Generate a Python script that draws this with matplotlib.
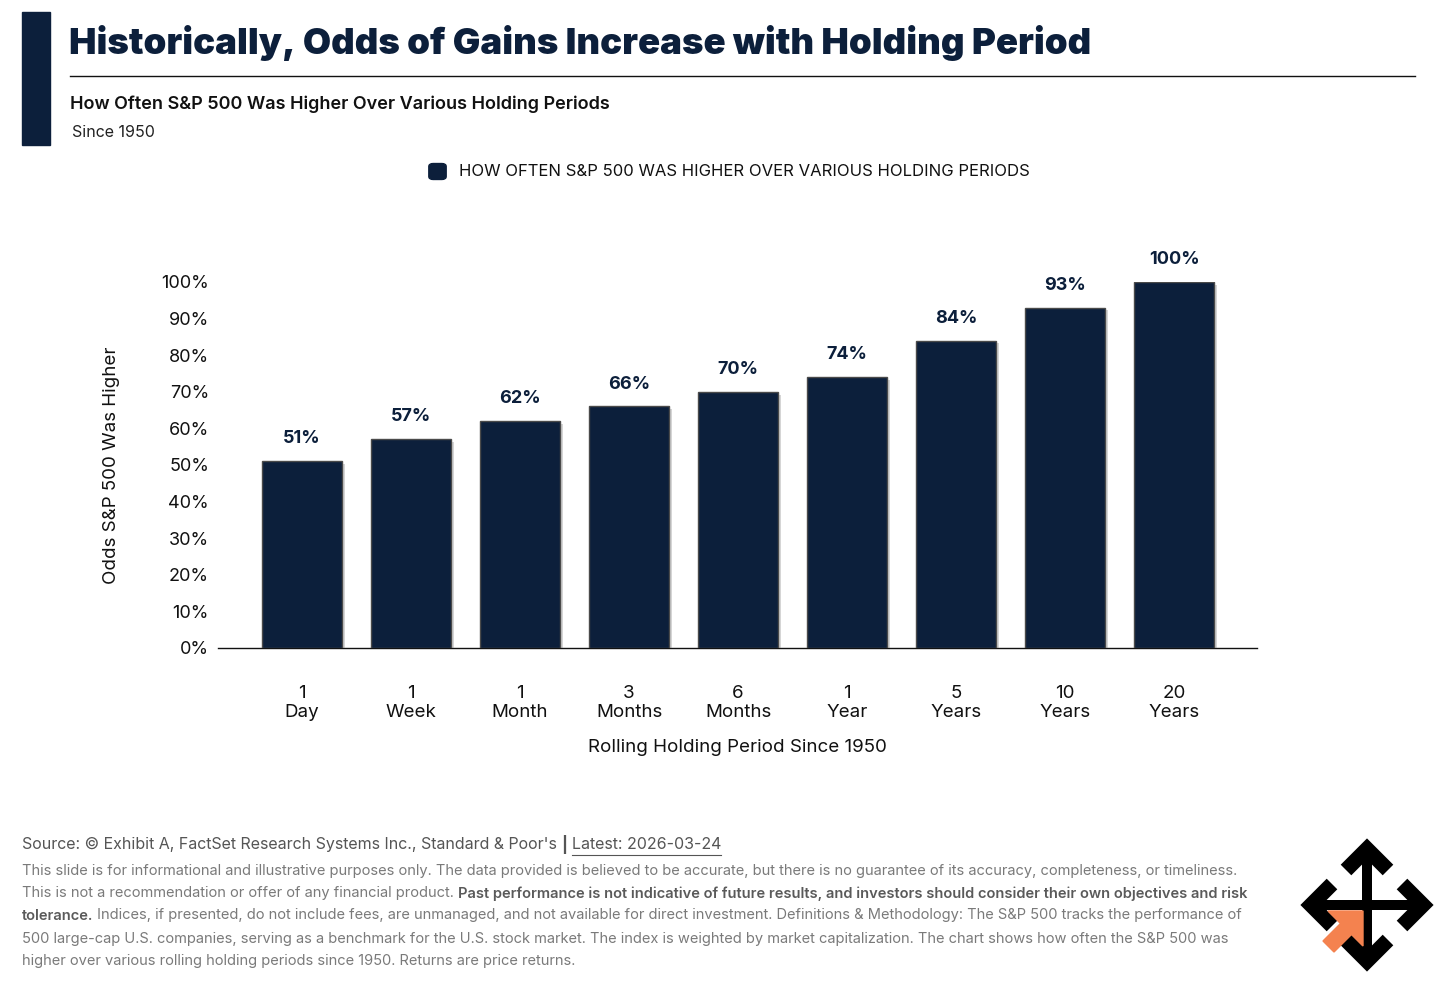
import matplotlib
matplotlib.use("Agg")
import matplotlib.pyplot as plt
import matplotlib.patheffects as pe
from matplotlib.patches import Rectangle, FancyBboxPatch, Polygon
from matplotlib.lines import Line2D

categories = ["1\nDay", "1\nWeek", "1\nMonth", "3\nMonths", "6\nMonths",
              "1\nYear", "5\nYears", "10\nYears", "20\nYears"]
values = [51, 57, 62, 66, 70, 74, 84, 93, 100]
yticks = [0, 10, 20, 30, 40, 50, 60, 70, 80, 90, 100]

NAVY = "#0c1f3b"
FONT = "Inter"
plt.rcParams["font.family"] = [FONT, "DejaVu Sans"]

W, H = 1456, 985
fig = plt.figure(figsize=(W / 100, H / 100), dpi=100)
fig.patch.set_facecolor("white")


def fx(px):
    return px / W


def fy(py):
    return 1 - py / H


# Header
fig.patches.append(Rectangle((fx(22), fy(145)), fx(50) - fx(22), fy(12) - fy(145),
                             transform=fig.transFigure, color=NAVY, zorder=1))
fig.text(fx(69), fy(43), "Historically, Odds of Gains Increase with Holding Period",
         fontsize=26.3, fontweight="black", color=NAVY, va="center", ha="left")
fig.add_artist(Line2D([fx(70), fx(1415)], [fy(76), fy(76)], transform=fig.transFigure,
                      color="#111111", lw=1.0))
fig.text(fx(70), fy(104), "How Often S&P 500 Was Higher Over Various Holding Periods",
         fontsize=13, fontweight="semibold", color="#111111", va="center", ha="left")
fig.text(fx(72), fy(133), "Since 1950", fontsize=11.5, color="#222222", va="center", ha="left")

# Legend
fig.patches.append(FancyBboxPatch((fx(431), fy(178)), fx(444) - fx(431), fy(165) - fy(178),
                                  boxstyle="round,pad=0.0015,rounding_size=0.003",
                                  transform=fig.transFigure, color=NAVY, zorder=2))
fig.text(fx(459), fy(171), "HOW OFTEN S&P 500 WAS HIGHER OVER VARIOUS HOLDING PERIODS",
         fontsize=12, color="#111111", va="center", ha="left")

# Main axes
ax = fig.add_axes([fx(218), fy(648), fx(1257) - fx(218), (648 - 282) / H])
x = list(range(len(categories)))
bars = ax.bar(x, values, width=0.74, color=NAVY, edgecolor="#4a4a4a", linewidth=1.0, zorder=3)
for b in bars:
    b.set_path_effects([pe.SimplePatchShadow(offset=(2, -2), shadow_rgbFace="#888888", alpha=0.35),
                        pe.Normal()])
for xi, v in zip(x, values):
    ax.annotate(f"{v}%", (xi, v), xytext=(0, 10), textcoords="offset points",
                ha="center", va="bottom", fontsize=13, fontweight="bold", color=NAVY,
                annotation_clip=False)
ax.set_xlim(-0.77, 8.76)
ax.set_ylim(0, 100)
ax.set_yticks(yticks)
ax.set_yticklabels([f"{t}%" for t in yticks], fontsize=13, color="#111111")
ax.set_xticks(x)
ax.set_xticklabels(categories, fontsize=13.5, color="#111111", linespacing=1.15)
ax.tick_params(axis="both", length=0)
ax.tick_params(axis="x", pad=26.5)
ax.tick_params(axis="y", pad=6.5)
for s in ["top", "right", "left"]:
    ax.spines[s].set_visible(False)
ax.spines["bottom"].set_color("#111111")
ax.spines["bottom"].set_linewidth(1.0)
ax.set_xlabel("Rolling Holding Period Since 1950", fontsize=13.5, color="#111111", labelpad=13)
ax.set_ylabel("Odds S&P 500 Was Higher", fontsize=13.5, color="#111111", labelpad=30)
ax.set_facecolor("none")

# Footer
renderer = fig.canvas.get_renderer()


def run(xpx, ypx, parts, size, color):
    cur = fx(xpx)
    for txt, weight, underline, col in parts:
        t = fig.text(cur, fy(ypx), txt, fontsize=size, fontweight=weight, color=col or color,
                     va="center", ha="left")
        bb = t.get_window_extent(renderer)
        if underline:
            fig.add_artist(Line2D([bb.x0 / W, bb.x1 / W], [fy(ypx + 10), fy(ypx + 10)],
                                  transform=fig.transFigure, color=col or color, lw=0.8))
        cur = bb.x1 / W


GRAY1 = "#555555"
GRAY2 = "#7a7a7a"
BOLD2 = "#5a5a5a"
run(22, 844.5, [("Source: © Exhibit A, FactSet Research Systems Inc., Standard & Poor's ", "normal", False, None),
                ("|", "bold", False, None), (" ", "normal", False, None),
                ("Latest: 2026-03-24", "normal", True, None)], 11.5, GRAY1)
fs = 10.55
run(22, 871.5, [("This slide is for informational and illustrative purposes only. The data provided is believed to be accurate, but there is no guarantee of its accuracy, completeness, or timeliness.", "normal", False, None)], fs, GRAY2)
run(22, 893.5, [("This is not a recommendation or offer of any financial product. ", "normal", False, None),
                ("Past performance is not indicative of future results, and investors should consider their own objectives and risk", "semibold", False, BOLD2)], fs, GRAY2)
run(22, 915.5, [("tolerance.", "semibold", False, BOLD2),
                (" Indices, if presented, do not include fees, are unmanaged, and not available for direct investment. Definitions & Methodology: The S&P 500 tracks the performance of", "normal", False, None)], fs, GRAY2)
run(22, 938.5, [("500 large-cap U.S. companies, serving as a benchmark for the U.S. stock market. The index is weighted by market capitalization. The chart shows how often the S&P 500 was", "normal", False, None)], fs, GRAY2)
run(22, 960.5, [("higher over various rolling holding periods since 1950. Returns are price returns.", "normal", False, None)], fs, GRAY2)

# Logo
lax = fig.add_axes([fx(1299), fy(973), 136 / W, 136 / H])
lax.set_xlim(-68, 68)
lax.set_ylim(-68, 68)
lax.axis("off")
sw = 10 / 1.39
cw = 15 / 1.39
lax.add_line(Line2D([0, 0], [-58, 58], color="black", lw=sw, solid_capstyle="butt"))
lax.add_line(Line2D([-58, 58], [0, 0], color="black", lw=sw, solid_capstyle="butt"))
for rot in range(4):
    pts = [(-21, 35), (0, 56), (21, 35)]
    for _ in range(rot):
        pts = [(-py, px_) for px_, py in pts]
    xs, ys = zip(*pts)
    lax.add_line(Line2D(xs, ys, color="black", lw=cw, solid_joinstyle="miter",
                        solid_capstyle="butt"))
ORANGE = "#f4824f"
lax.add_patch(Polygon([(-4, -6), (-39, -6), (-4, -41)], closed=True, color=ORANGE, zorder=5))
lax.add_patch(Polygon([(-12, -26), (-33, -47), (-44, -36), (-23, -15)], closed=True,
                      color=ORANGE, zorder=5))

fig.savefig("out.png", dpi=100)
